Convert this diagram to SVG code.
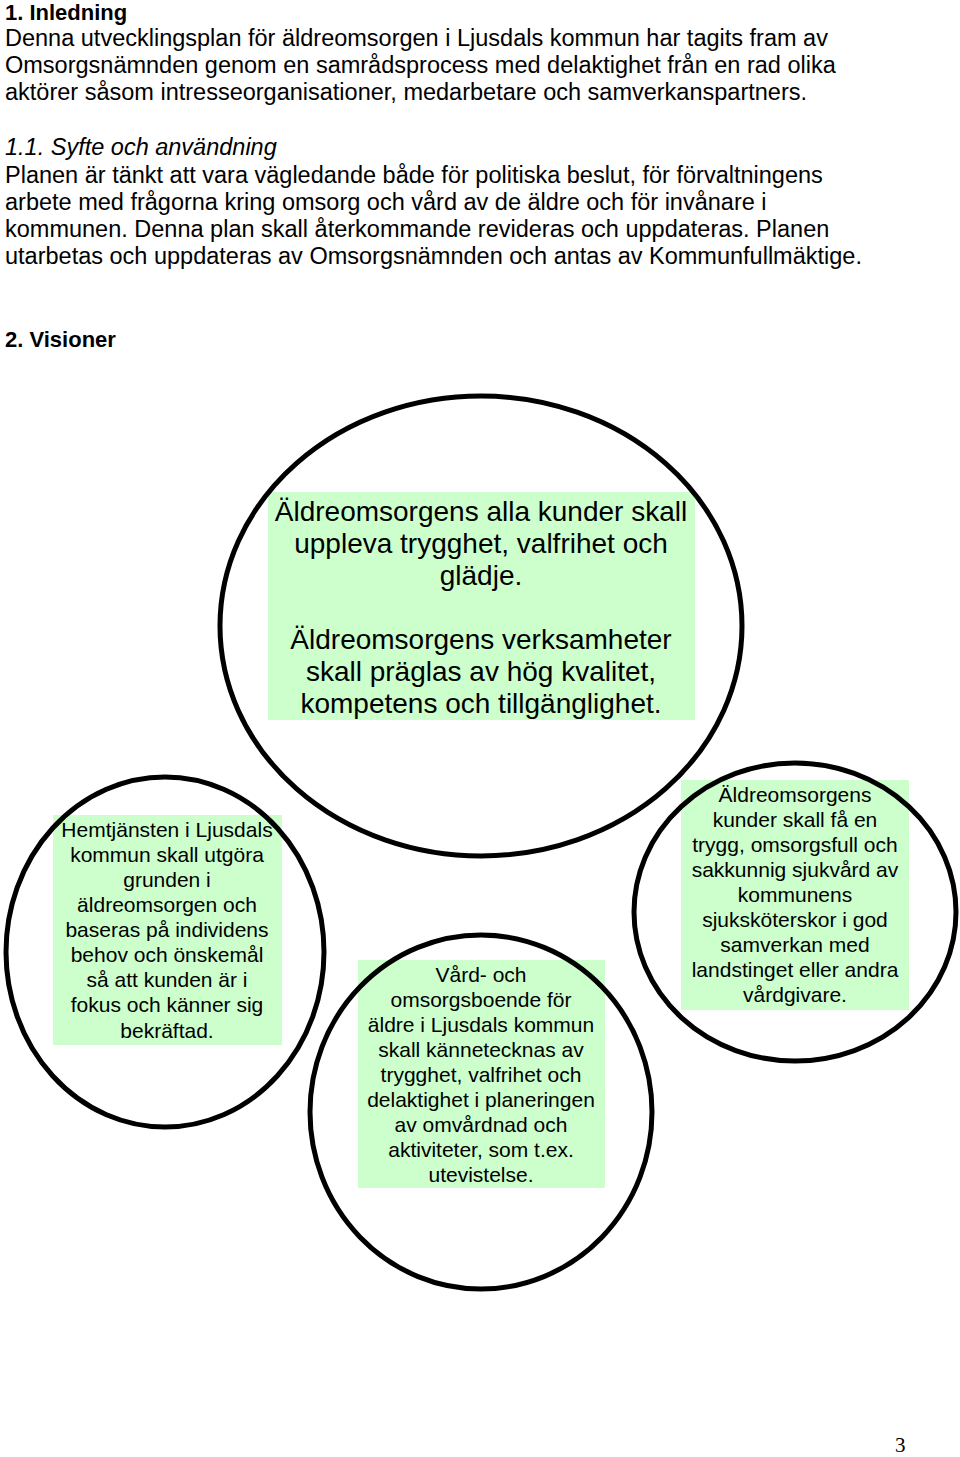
<svg xmlns="http://www.w3.org/2000/svg" width="960" height="1457" viewBox="0 0 960 1457">
<style>
text{font-family:"Liberation Sans",Arial,sans-serif;fill:#000}
.p{font-size:23.5px}
.h{font-size:22px;font-weight:bold}
.big{font-size:28px;text-anchor:middle}
.sm{font-size:21px;text-anchor:middle}
.c{fill:none;stroke:#000;stroke-width:5}
.g{fill:#ccffcc}
</style>
<rect width="960" height="1457" fill="#fff"/>
<text class="h" x="5" y="20">1. Inledning</text>
<text class="p" x="5" y="46">Denna utvecklingsplan för äldreomsorgen i Ljusdals kommun har tagits fram av</text>
<text class="p" x="5" y="73">Omsorgsnämnden genom en samrådsprocess med delaktighet från en rad olika</text>
<text class="p" x="5" y="100">aktörer såsom intresseorganisationer, medarbetare och samverkanspartners.</text>
<text class="p" x="5" y="155" font-style="italic">1.1. Syfte och användning</text>
<text class="p" x="5" y="183">Planen är tänkt att vara vägledande både för politiska beslut, för förvaltningens</text>
<text class="p" x="5" y="210">arbete med frågorna kring omsorg och vård av de äldre och för invånare i</text>
<text class="p" x="5" y="237">kommunen. Denna plan skall återkommande revideras och uppdateras. Planen</text>
<text class="p" x="5" y="264">utarbetas och uppdateras av Omsorgsnämnden och antas av Kommunfullmäktige.</text>
<text class="h" x="5" y="347">2. Visioner</text>
<g id="vision">
<rect class="g" x="268" y="492" width="427" height="228"/>
<ellipse class="c" cx="481" cy="626" rx="261" ry="230"/>
<text class="big" x="481" y="521">Äldreomsorgens alla kunder skall</text>
<text class="big" x="481" y="553">uppleva trygghet, valfrihet och</text>
<text class="big" x="481" y="585">glädje.</text>
<text class="big" x="481" y="649">Äldreomsorgens verksamheter</text>
<text class="big" x="481" y="681">skall präglas av hög kvalitet,</text>
<text class="big" x="481" y="713">kompetens och tillgänglighet.</text>
</g>
<g id="hemtjanst">
<rect class="g" x="53" y="815" width="229" height="230"/>
<ellipse class="c" cx="165" cy="952" rx="159" ry="175"/>
<text class="sm" x="167" y="837">Hemtjänsten i Ljusdals</text>
<text class="sm" x="167" y="862">kommun skall utgöra</text>
<text class="sm" x="167" y="887">grunden i</text>
<text class="sm" x="167" y="912">äldreomsorgen och</text>
<text class="sm" x="167" y="937">baseras på individens</text>
<text class="sm" x="167" y="962">behov och önskemål</text>
<text class="sm" x="167" y="987">så att kunden är i</text>
<text class="sm" x="167" y="1012">fokus och känner sig</text>
<text class="sm" x="167" y="1038">bekräftad.</text>
</g>
<g id="boende">
<rect class="g" x="358" y="960" width="247" height="228"/>
<ellipse class="c" cx="481" cy="1112" rx="171" ry="177"/>
<text class="sm" x="481" y="982">Vård- och</text>
<text class="sm" x="481" y="1007">omsorgsboende för</text>
<text class="sm" x="481" y="1032">äldre i Ljusdals kommun</text>
<text class="sm" x="481" y="1057">skall kännetecknas av</text>
<text class="sm" x="481" y="1082">trygghet, valfrihet och</text>
<text class="sm" x="481" y="1107">delaktighet i planeringen</text>
<text class="sm" x="481" y="1132">av omvårdnad och</text>
<text class="sm" x="481" y="1157">aktiviteter, som t.ex.</text>
<text class="sm" x="481" y="1182">utevistelse.</text>
</g>
<g id="sjukvard">
<rect class="g" x="681" y="780" width="228" height="230"/>
<ellipse class="c" cx="795" cy="912" rx="161" ry="149"/>
<text class="sm" x="795" y="802">Äldreomsorgens</text>
<text class="sm" x="795" y="827">kunder skall få en</text>
<text class="sm" x="795" y="852">trygg, omsorgsfull och</text>
<text class="sm" x="795" y="877">sakkunnig sjukvård av</text>
<text class="sm" x="795" y="902">kommunens</text>
<text class="sm" x="795" y="927">sjuksköterskor i god</text>
<text class="sm" x="795" y="952">samverkan med</text>
<text class="sm" x="795" y="977">landstinget eller andra</text>
<text class="sm" x="795" y="1002">vårdgivare.</text>
</g>
<g id="connectors"></g>
<text x="895" y="1452" style="font-family:'Liberation Serif',serif;font-size:21px">3</text>
</svg>
